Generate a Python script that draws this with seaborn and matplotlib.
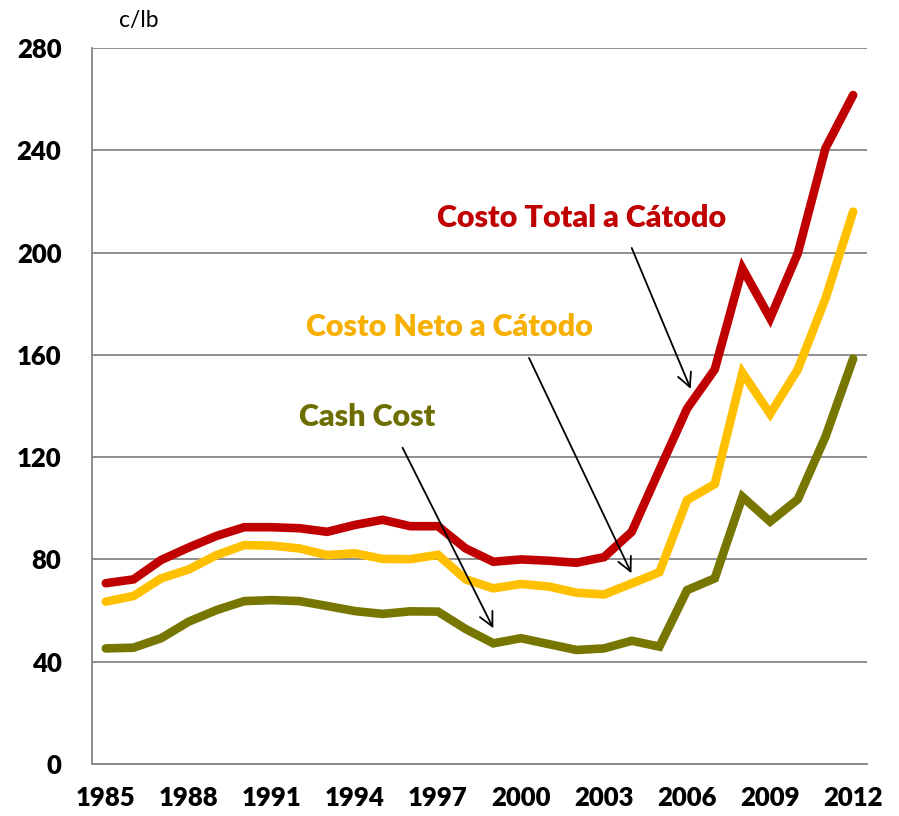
import matplotlib
matplotlib.use('Agg')
import matplotlib.pyplot as plt
import numpy as np
import pandas as pd
import seaborn as sns

# DATOS (c/lb)
years = list(range(1985, 2013))

costo_total = [70.7, 72.2, 79.8, 84.7, 89.2, 92.6, 92.6, 92.2, 90.8, 93.5,
               95.5, 93.0, 93.0, 84.3, 79.1, 80.0, 79.5, 78.7, 80.9, 90.8,
               115.0, 139.0, 154.3, 193.8, 174.3, 199.7, 240.8, 261.6]

costo_neto = [63.5, 65.7, 72.6, 76.1, 81.7, 85.6, 85.4, 84.3, 81.7, 82.4,
              80.2, 80.1, 81.8, 72.2, 68.7, 70.4, 69.4, 67.0, 66.3, 70.6,
              75.0, 103.2, 109.5, 153.0, 136.9, 154.3, 182.0, 216.0]

cash_cost = [45.2, 45.5, 49.2, 55.7, 60.2, 63.7, 64.1, 63.7, 61.8, 59.8,
             58.7, 59.7, 59.6, 52.8, 47.2, 49.2, 46.9, 44.6, 45.2, 48.2,
             45.9, 68.0, 72.6, 104.5, 94.8, 103.5, 128.0, 158.5]

series_names = ["Costo Total a Cátodo", "Costo Neto a Cátodo", "Cash Cost"]
line_colors = ["#C00000", "#FFC000", "#767600"]
text_colors = ["#C00000", "#F7AF00", "#6E6E00"]

y_ticks = [0, 40, 80, 120, 160, 200, 240, 280]
x_label_years = [1985, 1988, 1991, 1994, 1997, 2000, 2003, 2006, 2009, 2012]

# tabla larga para seaborn (x categórica: 0..27)
idx = np.arange(len(years))
df = pd.DataFrame({
    "pos": np.tile(idx, 3),
    "valor": costo_total + costo_neto + cash_cost,
    "serie": np.repeat(series_names, len(years)),
})

sns.set_style("white")
plt.rcParams['font.family'] = ['Lato', 'DejaVu Sans']
plt.rcParams['text.color'] = 'black'
plt.rcParams['xtick.labelcolor'] = 'black'
plt.rcParams['ytick.labelcolor'] = 'black'

fig = plt.figure(figsize=(8.99, 8.16), dpi=100)
ax = fig.add_axes([0.1023, 0.0637, 0.8621, 0.8775])

sns.lineplot(data=df, x="pos", y="valor", hue="serie", palette=line_colors,
             hue_order=series_names, linewidth=6.2, legend=False, ax=ax,
             solid_capstyle="round", solid_joinstyle="miter")

ax.set_xlim(-0.5, len(years) - 0.5)
ax.set_ylim(0, 280)
ax.set_yticks(y_ticks)
ax.set_yticklabels([str(v) for v in y_ticks], fontsize=18.5, fontweight=800)
ax.yaxis.grid(True, color="#868686", linewidth=1.3)
ax.set_axisbelow(True)

# ticks en los límites de categoría, etiquetas cada 3 años
ax.set_xticks(np.arange(len(years) + 1) - 0.5)
ax.set_xticklabels([])
ax.set_xticks([years.index(y) for y in x_label_years], minor=True)
ax.set_xticklabels([str(y) for y in x_label_years], minor=True,
                   fontsize=18.5, fontweight=800)
ax.tick_params(axis="x", which="major", length=9, width=1.3, color="#868686",
               direction="out")
ax.tick_params(axis="x", which="minor", length=0, pad=16, labelcolor="black")
ax.tick_params(axis="y", length=8, width=1.3, color="#868686", pad=14,
               labelcolor="black")

ax.set_xlabel("")
ax.set_ylabel("")
for side in ["top", "right"]:
    ax.spines[side].set_visible(False)
for side in ["left", "bottom"]:
    ax.spines[side].set_color("#868686")
    ax.spines[side].set_linewidth(1.3)

ax.text(0.061, 1.039, "c/lb", transform=ax.transAxes, fontsize=16.5,
        ha="center", va="center", color="black")

# etiquetas con flechas
labels_pos = [(17.17, 213.5), (12.40, 170.9), (9.43, 135.7)]
arrow_start = [(19.0, 201.8), (15.29, 158.8), (10.72, 123.7)]
arrow_end = [(21.13, 146.7), (18.99, 74.6), (14.0, 53.1)]

for name, col, (tx, ty), start, end in zip(series_names, text_colors,
                                           labels_pos, arrow_start, arrow_end):
    ax.text(tx, ty, name, color=col, fontsize=22, fontweight=800,
            ha="center", va="center")
    ax.annotate("", xy=end, xytext=start,
                arrowprops=dict(arrowstyle="->", color="black", lw=1.3,
                                mutation_scale=25, shrinkA=0, shrinkB=0))

plt.savefig("out.png", dpi=100)
plt.close()
